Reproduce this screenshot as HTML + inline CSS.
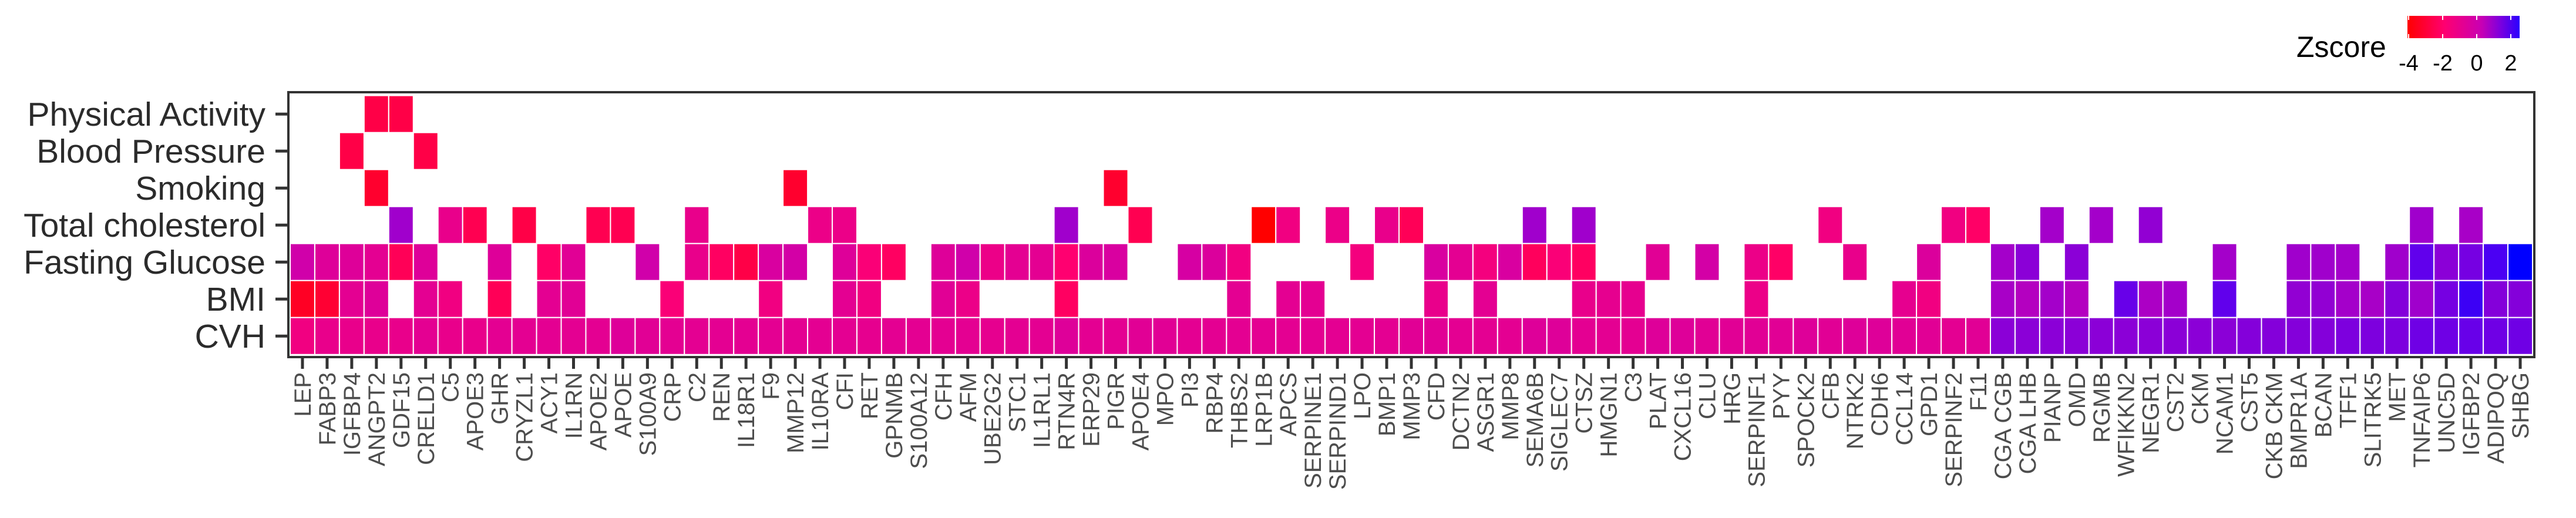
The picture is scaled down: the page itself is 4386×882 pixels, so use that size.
<!DOCTYPE html>
<html><head><meta charset="utf-8"><style>
html,body{margin:0;padding:0;background:#fff;}
svg{display:block;font-family:"Liberation Sans",Arial,sans-serif;}
</style></head><body>
<svg id="chart" width="4386" height="882" viewBox="0 0 4386 882" xmlns="http://www.w3.org/2000/svg">
<defs>
<linearGradient id="lg" x1="0" x2="1" y1="0" y2="0">
<stop offset="0" stop-color="#ff0000"/><stop offset="0.33" stop-color="#ff0070"/><stop offset="0.66" stop-color="#c800b4"/><stop offset="0.82" stop-color="#8000dc"/><stop offset="1" stop-color="#2a00ff"/>
</linearGradient>
</defs>
<g id="cells"></g>
<rect x="491" y="157" width="3824" height="451" fill="none" stroke="#333" stroke-width="4"/>
<g id="yaxis"></g>
<g id="xaxis"></g>
<g>
<text x="3910" y="97" font-size="50" fill="#000">Zscore</text>
<rect x="4099" y="27" width="191" height="38" fill="url(#lg)"/>
<g id="legticks"></g>
</g>
</svg>
<script>
const rows = ["Physical Activity","Blood Pressure","Smoking","Total cholesterol","Fasting Glucose","BMI","CVH"];
const genes = ["LEP","FABP3","IGFBP4","ANGPT2","GDF15","CRELD1","C5","APOE3","GHR","CRYZL1","ACY1","IL1RN","APOE2","APOE","S100A9","CRP","C2","REN","IL18R1","F9","MMP12","IL10RA","CFI","RET","GPNMB","S100A12","CFH","AFM","UBE2G2","STC1","IL1RL1","RTN4R","ERP29","PIGR","APOE4","MPO","PI3","RBP4","THBS2","LRP1B","APCS","SERPINE1","SERPIND1","LPO","BMP1","MMP3","CFD","DCTN2","ASGR1","MMP8","SEMA6B","SIGLEC7","CTSZ","HMGN1","C3","PLAT","CXCL16","CLU","HRG","SERPINF1","PYY","SPOCK2","CFB","NTRK2","CDH6","CCL14","GPD1","SERPINF2","F11","CGA CGB","CGA LHB","PIANP","OMD","RGMB","WFIKKN2","NEGR1","CST2","CKM","NCAM1","CST5","CKB CKM","BMPR1A","BCAN","TFF1","SLITRK5","MET","TNFAIP6","UNC5D","IGFBP2","ADIPOQ","SHBG"];
// non-null cells per row: [geneIndex, zscore]
const physicalActivity = [[3,-2.8],[4,-2.8]];
const bloodPressure = [[2,-2.8],[5,-2.8]];
const smoking = [[3,-3.3],[20,-3.3],[33,-3.3]];
const totalCholesterol = [[4,1.0],[6,-1.2],[7,-2.6],[9,-2.8],[12,-2.6],[13,-2.6],[16,-1.2],[21,-1.3],[22,-1.3],[31,1.0],[34,-2.6],[39,-4.2],[40,-1.5],[42,-1.3],[44,-1.2],[45,-2.5],[50,1.0],[52,1.0],[62,-1.5],[67,-1.5],[68,-2.2],[71,0.9],[73,0.9],[75,1.2],[86,1.0],[88,0.8]];
const fastingGlucose = [[0,-0.3],[1,-0.8],[2,-0.8],[3,-1.0],[4,-2.5],[5,-0.8],[8,-0.8],[10,-2.2],[11,-0.9],[14,-0.3],[16,-1.2],[17,-2.3],[18,-2.8],[19,-0.6],[20,-0.4],[22,-0.8],[23,-1.8],[24,-2.3],[26,-0.8],[27,-0.3],[28,-1.3],[29,-1.0],[30,-1.0],[31,-2.0],[32,-0.7],[33,-0.6],[36,-0.5],[37,-0.7],[38,-1.5],[43,-1.6],[46,-0.6],[47,-1.0],[48,-1.6],[49,-0.6],[50,-2.4],[51,-1.8],[52,-2.3],[55,-0.9],[57,-0.4],[59,-1.3],[60,-2.2],[63,-1.2],[66,-0.7],[69,0.9],[70,1.3],[72,1.3],[78,0.9],[81,1.0],[82,1.0],[83,0.9],[85,1.0],[86,1.9],[87,1.3],[88,1.6],[89,2.1],[90,2.6]];
const bmi = [[0,-3.5],[1,-3.2],[2,-1.0],[3,-0.8],[5,-1.0],[6,-1.5],[8,-2.5],[10,-1.0],[11,-0.9],[15,-1.8],[19,-1.5],[22,-1.0],[23,-1.5],[26,-0.9],[27,-1.3],[31,-2.3],[38,-1.0],[40,-1.0],[41,-1.0],[46,-1.2],[48,-1.0],[52,-1.2],[53,-1.1],[54,-1.1],[59,-1.3],[65,-1.1],[66,-1.5],[69,0.8],[70,0.5],[71,0.9],[72,0.5],[74,1.8],[75,0.7],[76,0.9],[78,1.9],[81,1.2],[82,1.2],[83,0.9],[84,0.8],[85,1.4],[86,1.0],[87,1.6],[88,2.2],[89,1.4],[90,1.4]];
const cvh = [-1.5,-1.2,-1.2,-1.2,-1.2,-1.0,-1.2,-1.2,-1.0,-1.0,-1.0,-1.0,-1.0,-0.8,-0.9,-1.0,-1.0,-1.0,-1.0,-1.0,-1.0,-1.0,-1.0,-1.1,-1.0,-1.0,-1.0,-1.0,-1.1,-1.0,-1.0,-0.8,-1.0,-1.0,-0.9,-0.9,-1.0,-1.0,-1.0,-1.0,-1.0,-1.0,-1.0,-1.0,-1.0,-0.9,-0.9,-1.0,-1.0,-1.0,-0.8,-0.8,-1.0,-1.0,-1.0,-0.8,-0.8,-0.9,-0.9,-0.9,-0.9,-0.8,-0.9,-0.8,-0.8,-0.9,-0.9,-1.0,-0.9,1.3,1.3,1.3,1.3,1.3,1.3,1.3,1.3,1.3,1.3,1.4,1.4,1.4,1.4,1.5,1.5,1.5,1.7,1.7,1.8,1.7,1.7];
const legendTicks = [-4,-2,0,2];

const NS = "http://www.w3.org/2000/svg";
const X0 = 494, X1 = 4312, Y0 = 162.7, RH = 63;
const CW = (X1 - X0) / genes.length;
function xPos(i){ return X0 + i * CW; }
function yPos(r){ return Y0 + r * RH; }
const stops = [[-4.2,[255,0,0]],[-2,[255,0,112]],[0,[200,0,180]],[1,[160,0,204]],[2,[90,0,240]],[2.6,[0,0,255]]];
function color(v){
  if (v <= stops[0][0]) return "rgb(255,0,0)";
  for (let k = 1; k < stops.length; k++){
    if (v <= stops[k][0]){
      const a = stops[k-1], b = stops[k], t = (v - a[0]) / (b[0] - a[0]);
      const c = a[1].map((x, j) => Math.round(x + (b[1][j] - x) * t));
      return "rgb(" + c.join(",") + ")";
    }
  }
  return "rgb(0,0,255)";
}
function legX(v){ return 4101 + (v + 4) * (4275 - 4101) / 6; }

const cellsG = document.getElementById("cells");
const rowData = [physicalActivity, bloodPressure, smoking, totalCholesterol, fastingGlucose, bmi, cvh.map((v, i) => [i, v])];
rowData.forEach((arr, r) => {
  arr.forEach(([i, v]) => {
    const rc = document.createElementNS(NS, "rect");
    rc.setAttribute("x", xPos(i)); rc.setAttribute("y", yPos(r));
    rc.setAttribute("width", CW); rc.setAttribute("height", RH);
    rc.setAttribute("fill", color(v)); rc.setAttribute("stroke", "#fff"); rc.setAttribute("stroke-width", "2");
    
    
    cellsG.appendChild(rc);
  });
});

const yG = document.getElementById("yaxis");
rows.forEach((name, r) => {
  const cy = yPos(r) + RH / 2;
  const t = document.createElementNS(NS, "text");
  t.setAttribute("x", 452); t.setAttribute("y", cy + 20);
  t.setAttribute("text-anchor", "end"); t.setAttribute("font-size", "57"); t.setAttribute("fill", "#2b2b2b");
  t.textContent = name;
  
  
  yG.appendChild(t);
  const tk = document.createElementNS(NS, "line");
  tk.setAttribute("x1", 469); tk.setAttribute("x2", 490); tk.setAttribute("y1", cy); tk.setAttribute("y2", cy);
  tk.setAttribute("stroke", "#333"); tk.setAttribute("stroke-width", "5");
  
  
  yG.appendChild(tk);
});

const xG = document.getElementById("xaxis");
genes.forEach((g, i) => {
  const cx = xPos(i) + CW / 2;
  const tk = document.createElementNS(NS, "line");
  tk.setAttribute("x1", cx); tk.setAttribute("x2", cx); tk.setAttribute("y1", 609); tk.setAttribute("y2", 628);
  tk.setAttribute("stroke", "#333"); tk.setAttribute("stroke-width", "5");
  
  
  xG.appendChild(tk);
  const t = document.createElementNS(NS, "text");
  t.setAttribute("transform", "translate(" + (cx + 14) + ",634) rotate(-90)");
  t.setAttribute("text-anchor", "end"); t.setAttribute("font-size", "40"); t.setAttribute("fill", "#4d4d4d");
  t.textContent = g;
  
  
  xG.appendChild(t);
});

const lg = document.getElementById("legticks");
legendTicks.forEach(v => {
  const x = legX(v);
  [[27, 34], [58, 65]].forEach(([a, b]) => {
    const l = document.createElementNS(NS, "line");
    l.setAttribute("x1", x); l.setAttribute("x2", x); l.setAttribute("y1", a); l.setAttribute("y2", b);
    l.setAttribute("stroke", "#fff"); l.setAttribute("stroke-width", "2");
    
    
    lg.appendChild(l);
  });
  const t = document.createElementNS(NS, "text");
  t.setAttribute("x", x); t.setAttribute("y", 120);
  t.setAttribute("text-anchor", "middle"); t.setAttribute("font-size", "38"); t.setAttribute("fill", "#000");
  t.textContent = String(v);
  
  
  lg.appendChild(t);
});
</script>
</body></html>
